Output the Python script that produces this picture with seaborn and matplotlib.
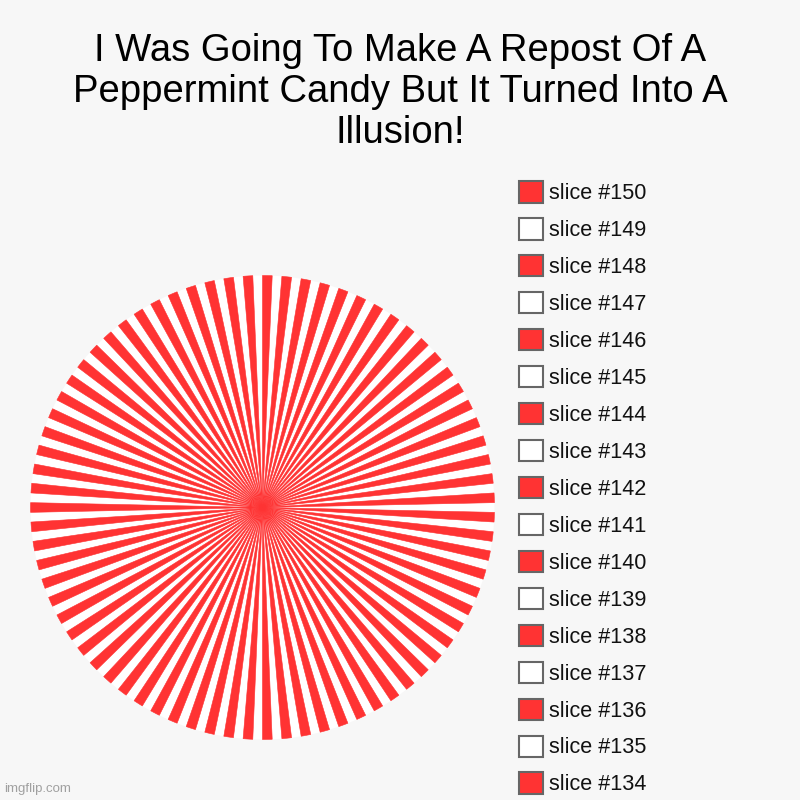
import numpy as np
import matplotlib
matplotlib.use("Agg")
import matplotlib.pyplot as plt
from matplotlib.patches import Patch
import seaborn as sns

sns.set_theme(style="white", rc={"figure.facecolor": "#f7f7f7", "axes.facecolor": "#f7f7f7"})
plt.rcParams["font.family"] = ["Liberation Sans", "DejaVu Sans"]

title = "I Was Going To Make A Repost Of A\nPeppermint Candy But It Turned Into A\nIllusion!"

# 150 equal slices, alternating white (odd) / red (even)
slice_nums = list(range(1, 151))
slice_values = [1] * 150
slice_labels = [f"slice #{n}" for n in slice_nums]
red, white = "#ff3333", "#ffffff"
slice_colors = [red if n % 2 == 0 else white for n in slice_nums]

fig = plt.figure(figsize=(8, 8), dpi=100)

# pie area: center (262, 508) px, radius ~232 px
ax = fig.add_axes([30.5 / 800, 60.5 / 800, 464 / 800, 464 / 800])
wedges, _ = ax.pie(slice_values, colors=slice_colors, startangle=90,
                   counterclock=True, radius=1,
                   wedgeprops=dict(linewidth=0, antialiased=True))
for w, c in zip(wedges, slice_colors):
    if c == red:
        w.set_edgecolor(red)
        w.set_linewidth(0.4)
        w.set_zorder(3)
ax.set_xlim(-1, 1)
ax.set_ylim(-1, 1)
ax.set_aspect("equal")
ax.axis("off")

fig.text(0.5, 1 - 92 / 800, title, ha="center", va="center",
         fontsize=27.5, linespacing=1.18, color="#000000")

# legend lists slices from last to first; rows below #134 fall off the image
handles = [Patch(facecolor=c, edgecolor="#666666", linewidth=1.5)
           for c in slice_colors[::-1]]
fig.legend(handles, slice_labels[::-1], loc="upper left",
           bbox_to_anchor=(519 / 800, 1 - 181.5 / 800),
           frameon=False, fontsize=15.6, handlelength=1.09, handleheight=1.12,
           handletextpad=0.28, labelspacing=0.648, borderpad=0, borderaxespad=0,
           labelcolor="#111111")

fig.text(4 / 800, 1 - 792 / 800, "imgflip.com", fontsize=9.5, color="#a0a0a0",
         ha="left", va="baseline")

fig.savefig("out.png", dpi=100, facecolor=fig.get_facecolor())
